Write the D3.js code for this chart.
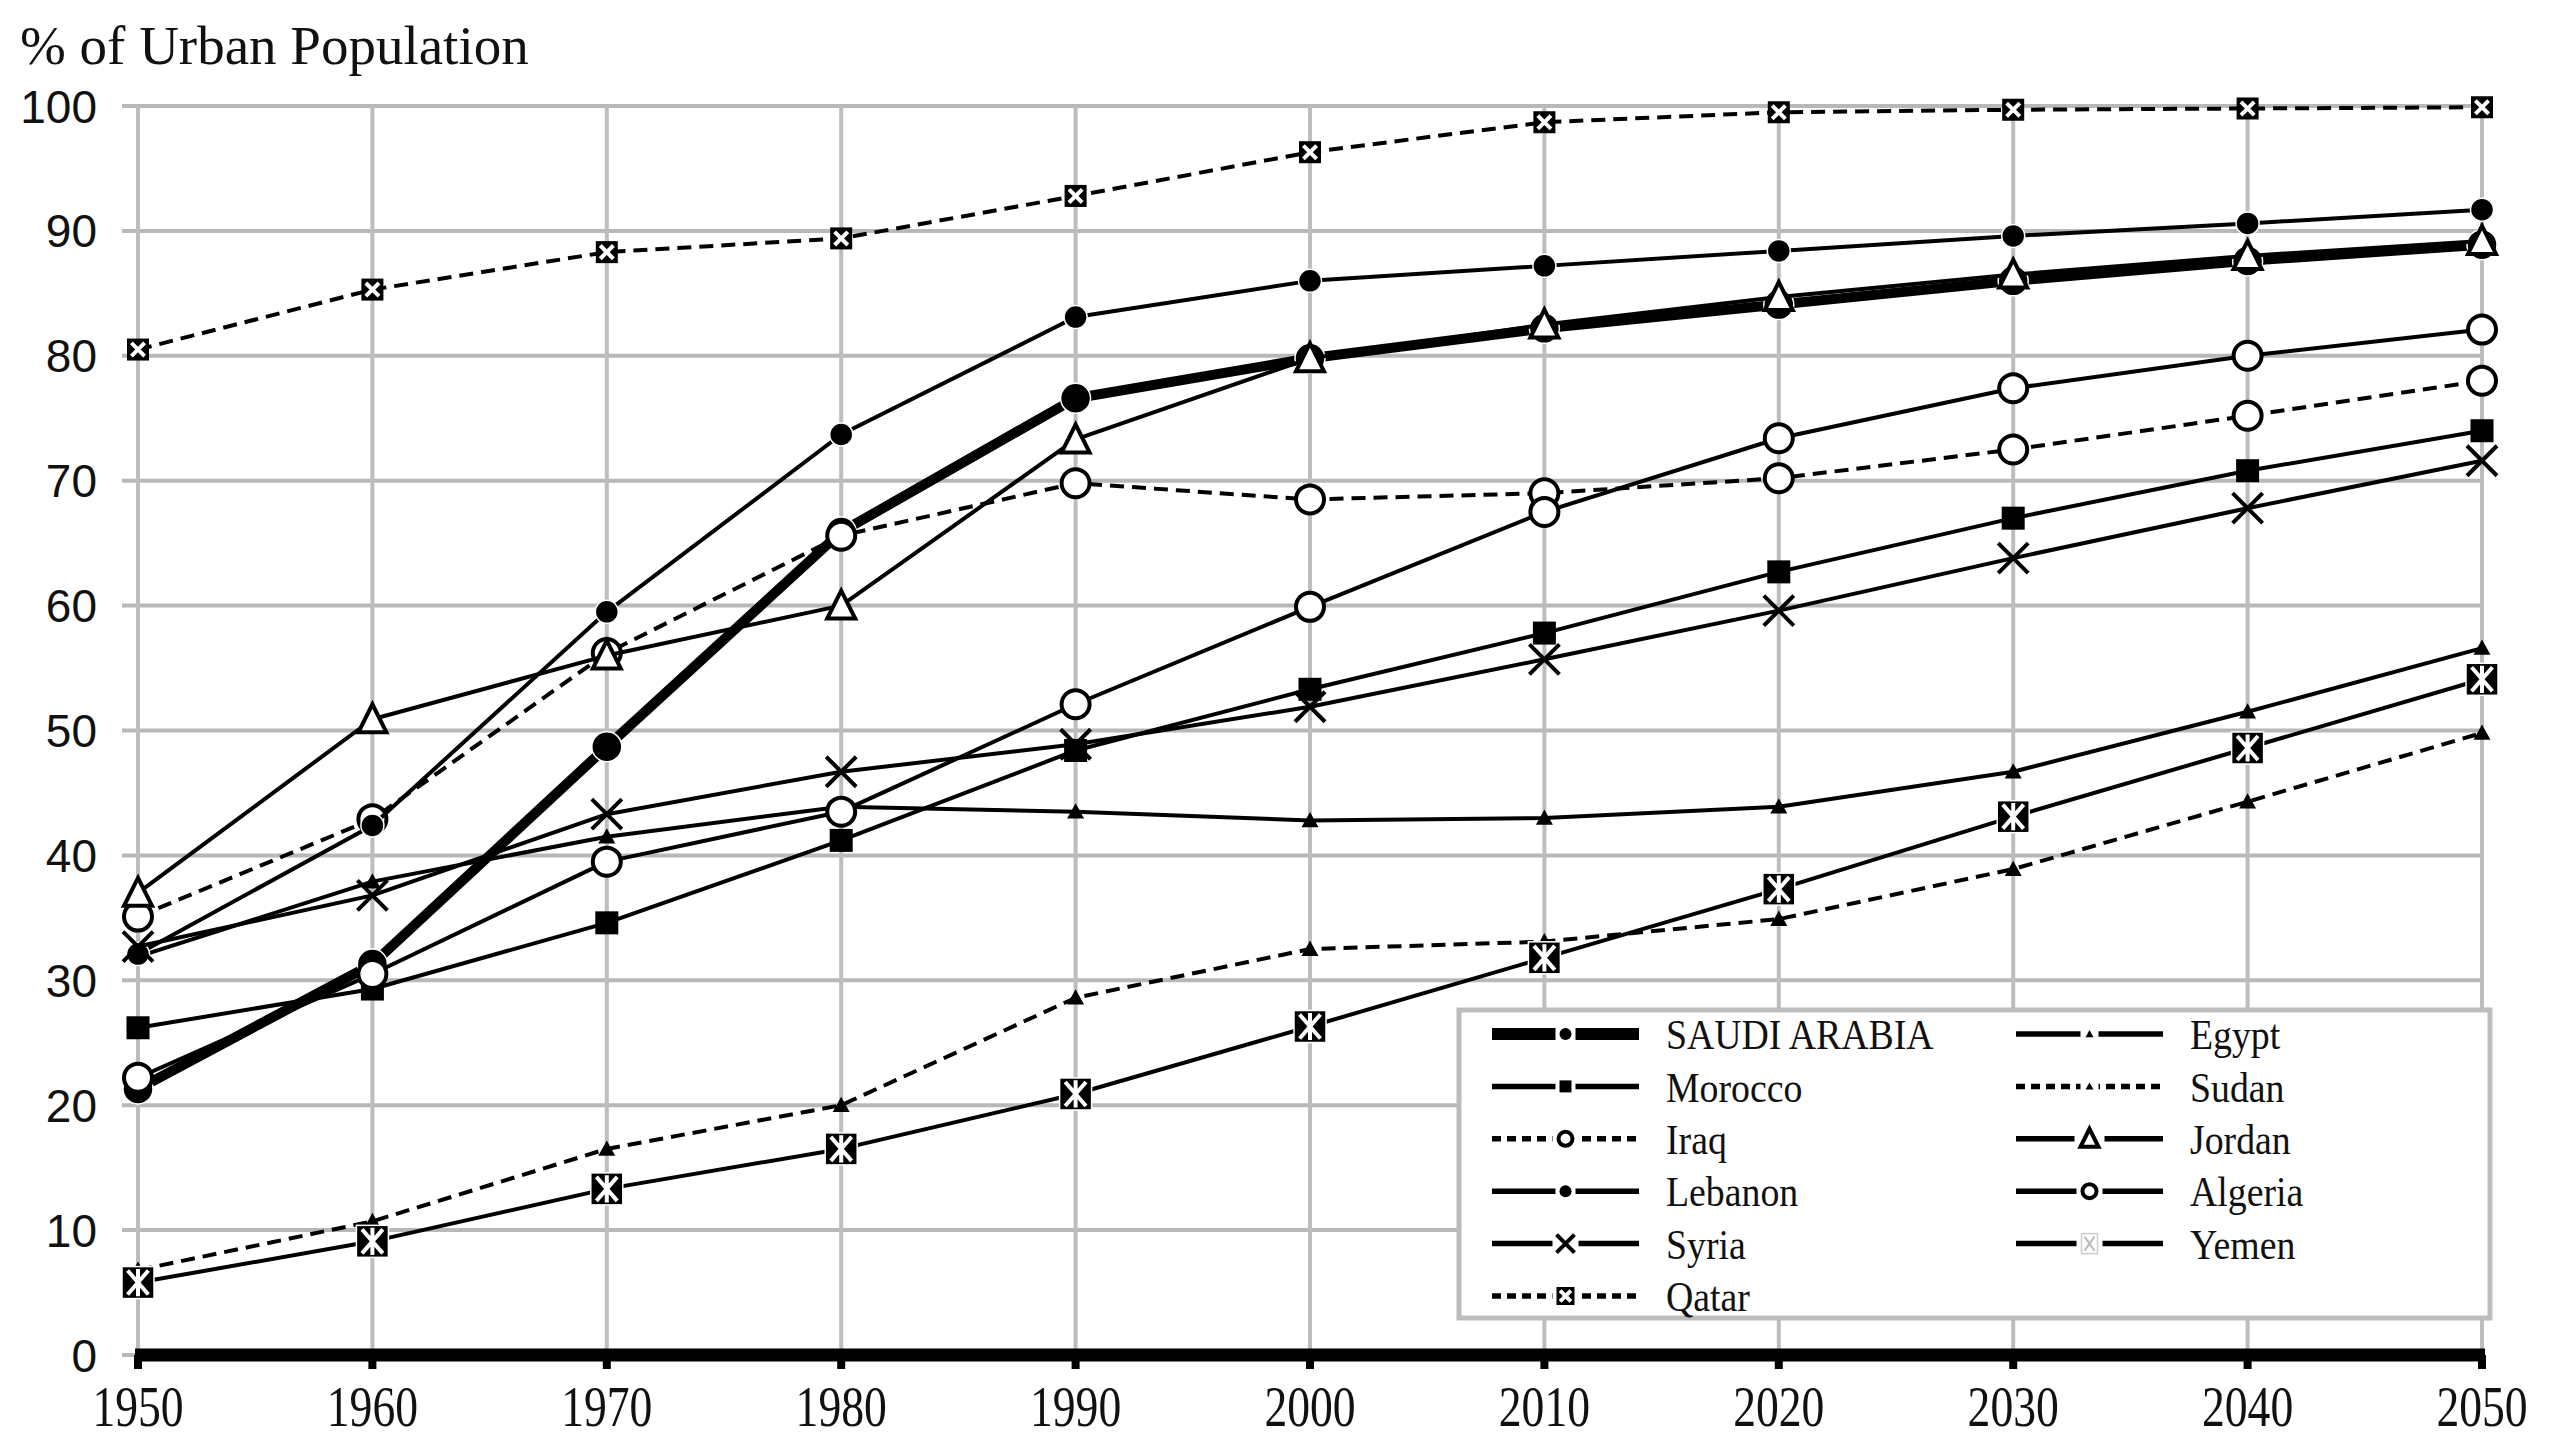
<!DOCTYPE html>
<html><head><meta charset="utf-8">
<script src="https://cdn.jsdelivr.net/npm/d3@7"></script>
<style>html,body{margin:0;padding:0;background:#fff;} svg{display:block;}</style>
</head><body>
<svg id="chart" width="2549" height="1446"></svg>
<script>
// ---------- DATA ----------
const years = [1950, 1960, 1970, 1980, 1990, 2000, 2010, 2020, 2030, 2040, 2050];
const saudiArabia = [21.3, 31.3, 48.7, 65.9, 76.6, 79.8, 82.2, 84.1, 86.0, 87.6, 88.9];
const egypt       = [31.9, 37.9, 41.5, 43.9, 43.5, 42.8, 43.0, 43.9, 46.7, 51.5, 56.6];
const morocco     = [26.2, 29.3, 34.6, 41.2, 48.4, 53.3, 57.8, 62.7, 67.0, 70.8, 74.0];
const sudan       = [6.8, 10.7, 16.5, 20.0, 28.6, 32.5, 33.1, 34.9, 38.9, 44.3, 49.8];
const iraq        = [35.1, 42.9, 56.2, 65.6, 69.8, 68.5, 69.0, 70.2, 72.5, 75.2, 78.0];
const jordan      = [37.0, 50.9, 56.0, 60.0, 73.3, 79.8, 82.5, 84.7, 86.5, 88.0, 89.2];
const lebanon     = [32.1, 42.4, 59.5, 73.7, 83.1, 86.0, 87.2, 88.4, 89.6, 90.6, 91.7];
const algeria     = [22.2, 30.5, 39.5, 43.5, 52.1, 59.9, 67.5, 73.4, 77.4, 80.0, 82.1];
const syria       = [32.7, 36.8, 43.3, 46.7, 48.9, 51.9, 55.7, 59.6, 63.8, 67.8, 71.6];
const yemen       = [5.8, 9.1, 13.3, 16.5, 20.9, 26.3, 31.8, 37.3, 43.1, 48.6, 54.1];
const qatar       = [80.5, 85.3, 88.3, 89.4, 92.8, 96.3, 98.7, 99.5, 99.7, 99.8, 99.9];
const seriesNames = ["SAUDI ARABIA", "Egypt", "Morocco", "Sudan", "Iraq", "Jordan",
                     "Lebanon", "Algeria", "Syria", "Yemen", "Qatar"];
const yTicks = [0, 10, 20, 30, 40, 50, 60, 70, 80, 90, 100];
const xTickLabels = ["1950","1960","1970","1980","1990","2000","2010","2020","2030","2040","2050"];
const yAxisTitle = "% of Urban Population";

// ---------- STYLES ----------
const styles = {
  "SAUDI ARABIA": {w: 10, dash: null, m: "circleFilled", s: 30, ls: 12},
  "Egypt":        {w: 4, dash: null, m: "triFilled", s: 17, ls: 8},
  "Morocco":      {w: 4, dash: null, m: "square", s: 23, ls: 12},
  "Sudan":        {w: 4, dash: "14,8", m: "triFilled", s: 17, ls: 8},
  "Iraq":         {w: 4, dash: "14,8", m: "circleOpen", s: 32, ls: 18},
  "Jordan":       {w: 4, dash: null, m: "triOpen", s: 32, ls: 22},
  "Lebanon":      {w: 4, dash: null, m: "circleFilled", s: 23, ls: 12},
  "Algeria":      {w: 4, dash: null, m: "circleOpen", s: 32, ls: 18},
  "Syria":        {w: 4, dash: null, m: "x", s: 30, ls: 18},
  "Yemen":        {w: 4, dash: null, m: "asterSquare", s: 32, ls: 18},
  "Qatar":        {w: 4, dash: "14,8", m: "xSquare", s: 22, ls: 18}
};
const seriesValues = [saudiArabia, egypt, morocco, sudan, iraq, jordan, lebanon, algeria, syria, yemen, qatar];
const series = seriesNames.map((n, i) => ({
  name: n, style: styles[n],
  points: years.map((yr, j) => ({year: yr, value: seriesValues[i][j]}))
}));

// ---------- LAYOUT ----------
const svg = d3.select("#chart");
const x = d3.scaleLinear().domain([1950, 2050]).range([138, 2482]);
const y = d3.scaleLinear().domain([0, 100]).range([1355, 106]);

svg.append("rect").attr("width", 2549).attr("height", 1446).attr("fill", "#fff");

// gridlines
const grid = svg.append("g");
grid.selectAll("line.h").data(yTicks.filter(v => v > 0)).join("line")
  .attr("x1", x(1950) - 16).attr("x2", x(2050))
  .attr("y1", d => y(d)).attr("y2", d => y(d))
  .attr("stroke", "#b8b8b8").attr("stroke-width", 4);
grid.selectAll("line.v").data(years).join("line")
  .attr("x1", d => x(d)).attr("x2", d => x(d))
  .attr("y1", y(100)).attr("y2", y(0))
  .attr("stroke", "#bdbdbd").attr("stroke-width", 4);
grid.append("line").attr("x1", x(1950) - 16).attr("x2", x(1950))
  .attr("y1", y(0)).attr("y2", y(0)).attr("stroke", "#b8b8b8").attr("stroke-width", 4);

// y axis labels
svg.append("g").selectAll("text").data(yTicks).join("text")
  .attr("x", 97).attr("y", d => y(d)).attr("dy", "0.36em")
  .attr("text-anchor", "end")
  .attr("font-family", "'Liberation Sans', Arial, sans-serif")
  .attr("font-size", 46).attr("fill", "#111")
  .text(d => d);

// title
svg.append("text").attr("x", 20).attr("y", 64)
  .attr("font-family", "'Liberation Serif', 'Times New Roman', serif")
  .attr("font-size", 55).attr("fill", "#111").text(yAxisTitle);

// x axis
const xAxis = d3.axisBottom(x).tickValues(years).tickFormat((d, i) => xTickLabels[i])
  .tickSize(0).tickPadding(0);
const xg = svg.append("g").attr("transform", `translate(0,${y(0)})`).call(xAxis);
xg.select(".domain").remove();
xg.selectAll(".tick text").remove();
svg.append("line").attr("x1", x(1950) - 3).attr("x2", x(2050) + 3)
  .attr("y1", y(0)).attr("y2", y(0)).attr("stroke", "#000").attr("stroke-width", 13);
svg.append("g").selectAll("rect").data(years).join("rect")
  .attr("x", d => x(d) - 4).attr("y", y(0)).attr("width", 8).attr("height", 14).attr("fill", "#000");
svg.append("g").selectAll("text").data(years).join("text")
  .attr("transform", d => `translate(${x(d)},1426) scale(0.8,1)`)
  .attr("text-anchor", "middle")
  .attr("font-family", "'Liberation Serif', 'Times New Roman', serif")
  .attr("font-size", 57).attr("fill", "#111")
  .text((d, i) => xTickLabels[i]);

// marker drawer
function drawMarker(g, type, s, outline) {
  const h = s / 2;
  switch (type) {
    case "circleFilled":
      g.append("circle").attr("r", h).attr("fill", "#000")
        .attr("stroke", outline ? "#fff" : "none").attr("stroke-width", 1.5); break;
    case "circleOpen":
      g.append("circle").attr("r", h - 2).attr("fill", "#fff").attr("stroke", "#000").attr("stroke-width", 4); break;
    case "square":
      g.append("rect").attr("x", -h).attr("y", -h).attr("width", s).attr("height", s).attr("fill", "#000"); break;
    case "triFilled":
      g.append("path").attr("d", `M0,${-h}L${h},${h * 0.8}L${-h},${h * 0.8}Z`).attr("fill", "#000"); break;
    case "triOpen":
      g.append("path").attr("d", `M0,${-h + 1}L${h - 2},${h - 3}L${-h + 2},${h - 3}Z`)
        .attr("fill", "#fff").attr("stroke", "#000").attr("stroke-width", 4).attr("stroke-linejoin", "miter"); break;
    case "x":
      g.append("path").attr("d", `M${-h},${-h}L${h},${h}M${-h},${h}L${h},${-h}`)
        .attr("stroke", "#000").attr("stroke-width", 4); break;
    case "xSquare":
      g.append("rect").attr("x", -h).attr("y", -h).attr("width", s).attr("height", s).attr("fill", "#000");
      g.append("path").attr("d", `M${-h * 0.6},${-h * 0.6}L${h * 0.6},${h * 0.6}M${-h * 0.6},${h * 0.6}L${h * 0.6},${-h * 0.6}`)
        .attr("stroke", "#fff").attr("stroke-width", 4); break;
    case "asterSquare":
      g.append("rect").attr("x", -h).attr("y", -h).attr("width", s).attr("height", s).attr("fill", "#000")
        .attr("stroke", "#fff").attr("stroke-width", 1.5);
      g.append("path").attr("d", `M${-h * 0.65},${-h * 0.75}L${h * 0.65},${h * 0.75}M${-h * 0.65},${h * 0.75}L${h * 0.65},${-h * 0.75}M0,${-h * 0.85}L0,${h * 0.85}`)
        .attr("stroke", "#fff").attr("stroke-width", 4); break;
  }
}

// series
const line = d3.line().x(d => x(d.year)).y(d => y(d.value));
const plot = svg.append("g");
series.forEach(sr => {
  const g = plot.append("g");
  g.append("path").datum(sr.points).attr("d", line)
    .attr("fill", "none").attr("stroke", "#000").attr("stroke-width", sr.style.w)
    .attr("stroke-dasharray", sr.style.dash).attr("stroke-linejoin", "round");
  sr.points.forEach(p => {
    const mg = g.append("g").attr("transform", `translate(${x(p.year)},${y(p.value)})`);
    drawMarker(mg, sr.style.m, sr.style.s, true);
  });
});

// legend
const lg = svg.append("g");
lg.append("rect").attr("x", 1459).attr("y", 1010).attr("width", 1031).attr("height", 308)
  .attr("fill", "#fff").attr("stroke", "#bcbcbc").attr("stroke-width", 5);
series.forEach((sr, i) => {
  const col = i % 2, row = Math.floor(i / 2);
  const lx = col === 0 ? 1492 : 2016;
  const ly = 1034 + row * 52.4;
  const it = lg.append("g");
  it.append("line").attr("x1", lx).attr("x2", lx + 147).attr("y1", ly).attr("y2", ly)
    .attr("stroke", "#000").attr("stroke-width", sr.style.w === 10 ? 12 : 5.5)
    .attr("stroke-dasharray", sr.style.dash ? "9,6" : null);
  const mg = it.append("g").attr("transform", `translate(${lx + 73.5},${ly})`);
  const gapW = Math.max(sr.style.ls, 10) + 8;
  mg.append("rect").attr("x", -gapW / 2).attr("y", -8).attr("width", gapW).attr("height", 16).attr("fill", "#fff");
  if (sr.name === "Yemen") {
    mg.append("rect").attr("x", -8).attr("y", -10).attr("width", 16).attr("height", 20)
      .attr("fill", "#fff").attr("stroke", "#ccc").attr("stroke-width", 1.5);
    mg.append("path").attr("d", "M-5,-7L5,7M-5,7L5,-7").attr("stroke", "#bbb").attr("stroke-width", 2);
  } else {
    drawMarker(mg, sr.style.m, sr.style.ls, false);
  }
  it.append("text").attr("transform", `translate(${lx + 174},${ly}) scale(0.9,1)`)
    .attr("dy", "0.36em")
    .attr("font-family", "'Liberation Serif', 'Times New Roman', serif")
    .attr("font-size", 42).attr("fill", "#111").text(sr.name);
});
</script>
</body></html>
